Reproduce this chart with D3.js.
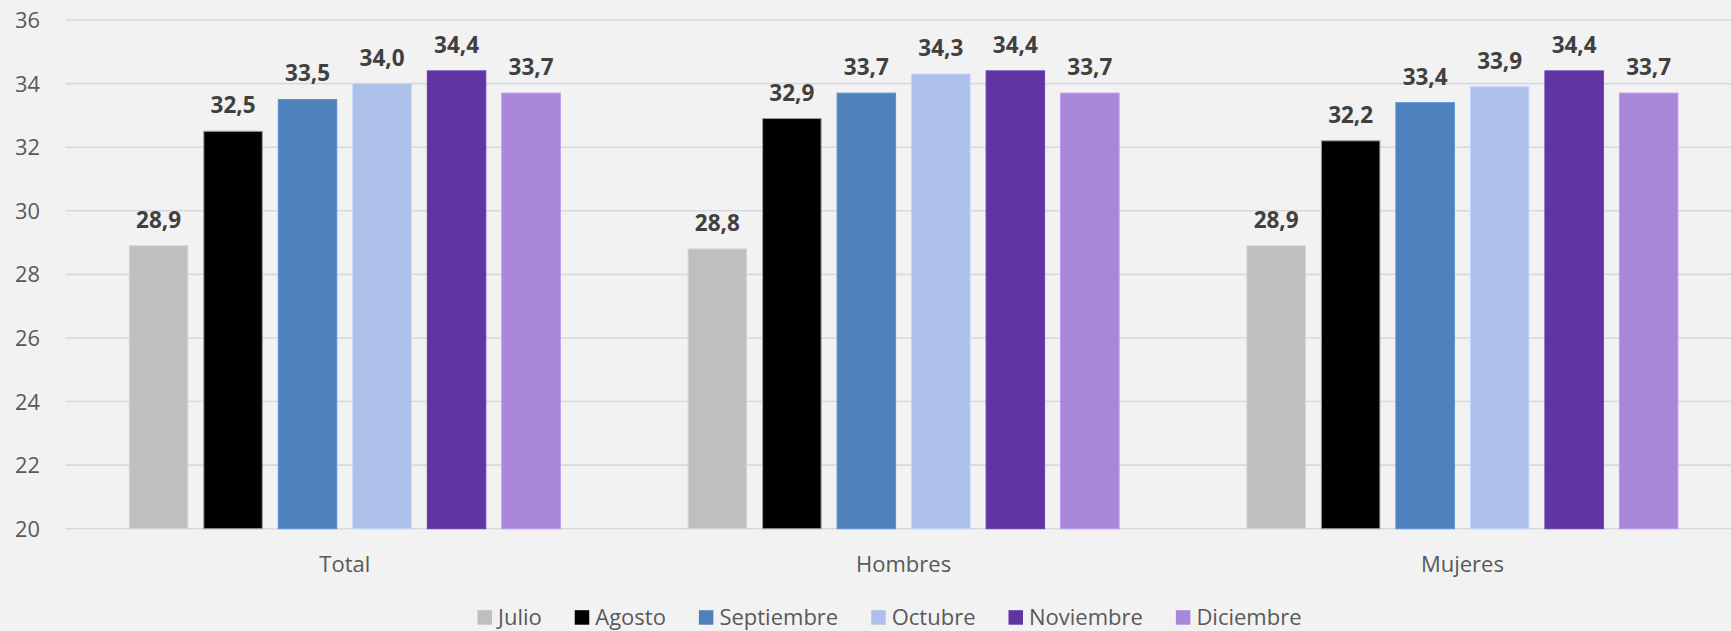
<!DOCTYPE html>
<html>
<head>
<meta charset="utf-8">
<script src="https://cdn.jsdelivr.net/npm/d3@7"></script>
<style>
  html, body { margin: 0; padding: 0; background: #F2F2F2; }
  svg { display: block; }
</style>
</head>
<body>
<svg id="chart" width="1731" height="631"></svg>
<script>
const categories = ["Total", "Hombres", "Mujeres"];
const seriesNames = ["Julio", "Agosto", "Septiembre", "Octubre", "Noviembre", "Diciembre"];
const seriesColors = ["#BFBFBF", "#000000", "#4F81BD", "#ADC0E9", "#5F35A1", "#A887D9"];
const julio      = [28.9, 28.8, 28.9];
const agosto     = [32.5, 32.9, 32.2];
const septiembre = [33.5, 33.7, 33.4];
const octubre    = [34.0, 34.3, 33.9];
const noviembre  = [34.4, 34.4, 34.4];
const diciembre  = [33.7, 33.7, 33.7];
const yTicks = [20, 22, 24, 26, 28, 30, 32, 34, 36];

const seriesValues = [julio, agosto, septiembre, octubre, noviembre, diciembre];

const svg = d3.select("#chart");
const W = 1731, H = 631;
const plot = { left: 65.4, right: 1741.8, top: 20, bottom: 528.7 };
const fontFamily = "'Open Sans', 'Noto Sans', sans-serif";

svg.append("rect").attr("width", W).attr("height", H).attr("fill", "#F2F2F2");

const y = d3.scaleLinear().domain([20, 36]).range([plot.bottom, plot.top]);
const x0 = d3.scaleBand().domain(categories).range([plot.left, plot.right]);
const groupSpan = 431;
const x1 = d3.scaleBand().domain(seriesNames)
  .range([(x0.bandwidth() - groupSpan) / 2, (x0.bandwidth() + groupSpan) / 2])
  .paddingInner(0.215).paddingOuter(0);

// gridlines
const grid = svg.append("g").attr("class", "grid");
grid.selectAll("line").data(yTicks).join("line")
  .attr("x1", plot.left).attr("x2", W)
  .attr("y1", d => y(d)).attr("y2", d => y(d))
  .attr("stroke", "#D9D9D9").attr("stroke-width", 1.6);

// y axis
const yAxis = d3.axisLeft(y).tickValues(yTicks).tickSize(0).tickPadding(0).tickFormat(d3.format("d"));
const yg = svg.append("g").attr("transform", `translate(40,0)`).call(yAxis);
yg.select(".domain").remove();
yg.selectAll("text").attr("font-family", fontFamily).attr("font-size", 21.8)
  .attr("fill", "#595959").attr("dy", "0.35em");

// bars
const fmt = v => d3.format(".1f")(v).replace(".", ",");
const data = [];
categories.forEach((c, ci) => {
  seriesNames.forEach((s, si) => {
    data.push({ cat: c, series: s, value: seriesValues[si][ci], color: seriesColors[si] });
  });
});

const bars = svg.append("g").attr("class", "bars");
bars.selectAll("rect").data(data).join("rect")
  .attr("x", d => x0(d.cat) + x1(d.series))
  .attr("y", d => y(d.value))
  .attr("width", x1.bandwidth())
  .attr("height", d => y(20) - y(d.value))
  .attr("fill", d => d.color)
  .attr("stroke", d => d.series === "Agosto" ? "#9a9a9a" : d3.color(d.color).brighter(0.3))
  .attr("stroke-width", 1);

// labels
svg.append("g").selectAll("text").data(data).join("text")
  .attr("x", d => x0(d.cat) + x1(d.series) + x1.bandwidth() / 2)
  .attr("y", d => y(d.value) - 18)
  .attr("text-anchor", "middle")
  .attr("font-family", fontFamily).attr("font-weight", "bold").attr("font-size", 22.5)
  .attr("fill", "#404040")
  .text(d => fmt(d.value));

// x axis
const xAxis = d3.axisBottom(x0).tickSize(0).tickPadding(0);
const xg = svg.append("g").attr("transform", `translate(0,${plot.bottom})`).call(xAxis);
xg.select(".domain").remove();
xg.selectAll("text").attr("font-family", fontFamily).attr("font-size", 22)
  .attr("fill", "#595959").attr("y", 43).attr("dy", 0);

// legend
const legend = svg.append("g").attr("class", "legend");
const sw = 14.5, gapText = 6, gapItem = 33;
const items = legend.selectAll("g").data(seriesNames).join("g");
items.append("rect").attr("width", sw).attr("height", sw).attr("y", -14.4)
  .attr("fill", (d, i) => seriesColors[i]);
items.append("text").attr("x", sw + gapText).attr("y", 0)
  .attr("font-family", fontFamily).attr("font-size", 22).attr("fill", "#595959")
  .text(d => d);
let widths = [];
items.each(function() {
  widths.push(sw + gapText + d3.select(this).select("text").node().getComputedTextLength());
});
const total = d3.sum(widths) + gapItem * (widths.length - 1);
let cx = 889.5 - total / 2;
items.each(function(d, i) {
  d3.select(this).attr("transform", `translate(${cx},624.6)`);
  cx += widths[i] + gapItem;
});
</script>
</body>
</html>
